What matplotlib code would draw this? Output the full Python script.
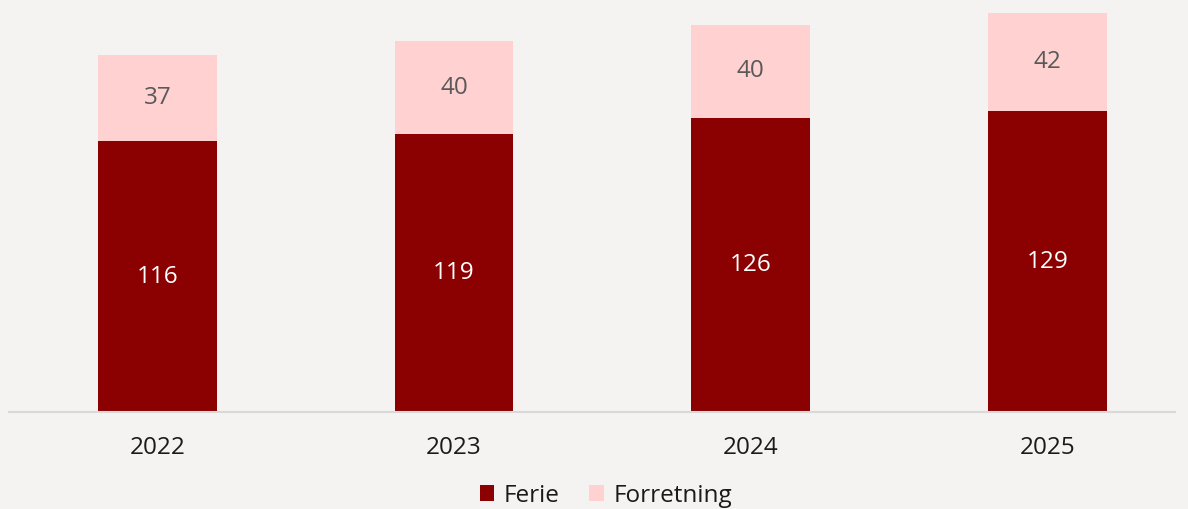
import matplotlib.pyplot as plt

years = ["2022", "2023", "2024", "2025"]
ferie = [116, 119, 126, 129]
forretning = [37, 40, 40, 42]

plt.rcParams["font.family"] = ["Open Sans", "DejaVu Sans"]

bg = "#f4f3f1"
dark = "#8b0000"
pink = "#ffd1d1"

fig = plt.figure(figsize=(11.88, 5.09), dpi=100, facecolor=bg)
ax = fig.add_axes([9 / 1188, 97 / 509, 1166 / 1188, 412 / 509])
ax.set_facecolor(bg)

x = list(range(len(years)))
b1 = ax.bar(x, ferie, width=0.4, color=dark, label="Ferie")
b2 = ax.bar(x, forretning, width=0.4, bottom=ferie, color=pink, label="Forretning")

ax.bar_label(b1, label_type="center", color="white", fontsize=17.5)
ax.bar_label(b2, label_type="center", color="#595959", fontsize=17.5)

ax.set_xlim(-0.5, 3.43)
ax.set_ylim(0, 176.6)
ax.set_xticks(x)
ax.set_xticklabels(years, fontsize=17.5, color="#1a1a1a")
ax.tick_params(axis="x", length=0, pad=17)
ax.set_yticks([])
for side in ["top", "left", "right"]:
    ax.spines[side].set_visible(False)
ax.spines["bottom"].set_color("#d9d9d9")
ax.spines["bottom"].set_linewidth(1.5)

fig.legend(handles=[b1, b2], loc="center", bbox_to_anchor=(0.51, 0.026),
           ncol=2, frameon=False, fontsize=17.5, handlelength=0.6, handleheight=0.6,
           handletextpad=0.4, columnspacing=1.2, labelcolor="#1a1a1a")

fig.savefig("out.png", dpi=100, facecolor=bg)
